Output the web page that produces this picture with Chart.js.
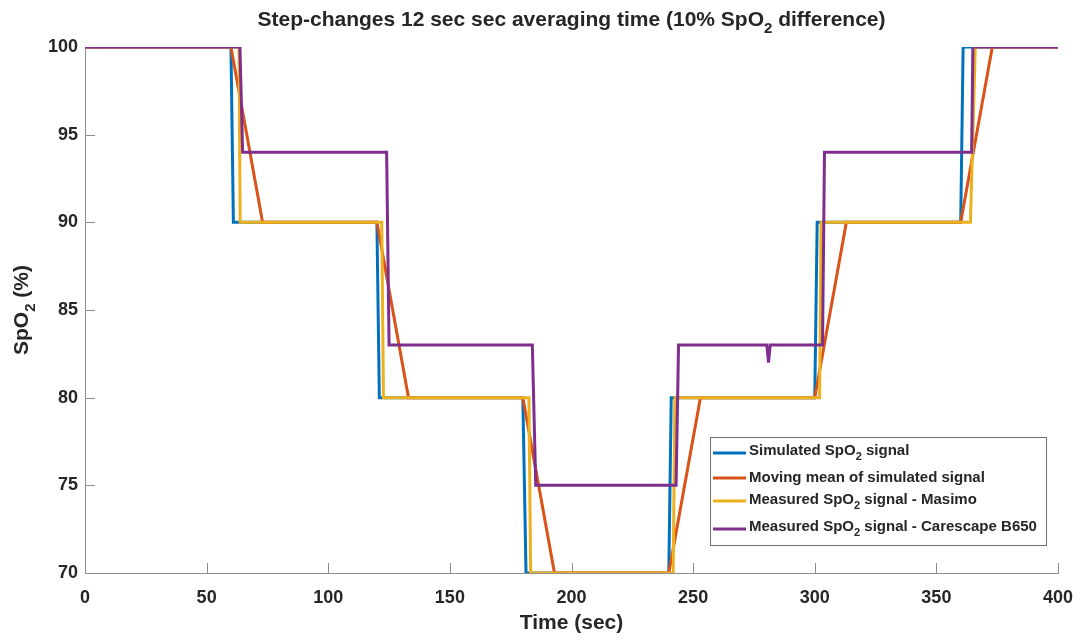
<!DOCTYPE html>
<html>
<head>
<meta charset="utf-8">
<script src="https://cdn.jsdelivr.net/npm/chart.js@4/dist/chart.umd.min.js"></script>
<style>
  body { margin: 0; background: #fff; }
  canvas { display: block; }
</style>
</head>
<body>
<canvas id="chart" width="1084" height="640"></canvas>
<script>
// (time in sec, SpO2 in %)
const simTime = [0, 60, 61, 120, 121, 180, 181.3, 240, 241, 300, 301, 360, 361, 400];
const simSpO2 = [100, 100, 90, 90, 80, 80, 70, 70, 80, 80, 90, 90, 100, 100];

const meanTime = [0, 60, 73, 120, 133, 180, 193, 240, 253, 300, 313, 360, 373, 400];
const meanSpO2 = [100, 100, 90, 90, 80, 80, 70, 70, 80, 80, 90, 90, 100, 100];

const masimoTime = [0, 63.3, 63.8, 122, 122.7, 182.5, 183.2, 241.8, 242.5, 302, 302.6, 364, 366, 400];
const masimoSpO2 = [100, 100, 90, 90, 80, 80, 70, 70, 80, 80, 90, 90, 100, 100];

const careTime = [0, 63.7, 64.8, 124, 125, 183.9, 185.3, 243, 244, 280.3, 281, 281.7, 303.2, 304, 364.5, 365, 400];
const careSpO2 = [100, 100, 94, 94, 83, 83, 75, 75, 83, 83, 82, 83, 83, 94, 94, 100, 100];

const xTicks = [0, 50, 100, 150, 200, 250, 300, 350, 400];
const yTicks = [70, 75, 80, 85, 90, 95, 100];

// '_2' marks a subscript, as in the MATLAB tex labels
const seriesLabels = [
    'Simulated SpO_2 signal',
    'Moving mean of simulated signal',
    'Measured SpO_2 signal - Masimo',
    'Measured SpO_2 signal - Carescape B650'
];
const seriesColors = ['#0072BD', '#D95319', '#EDB120', '#7E2F8E'];
const chartTitle = 'Step-changes 12 sec sec averaging time (10% SpO_2 difference)';
const xTitle = 'Time (sec)';
const yTitle = 'SpO_2 (%)';

const ink = '#262626';
const axisGray = '#8f8f8f';
const fontFamily = '"Liberation Sans", Arial, Helvetica, sans-serif';

function toPoints(xs, ys) {
    return xs.map((x, i) => ({ x: x, y: ys[i] }));
}

function splitSub(text) {
    const parts = [];
    let buf = '';
    for (let i = 0; i < text.length; i++) {
        if (text[i] === '_' && i + 1 < text.length) {
            if (buf) parts.push([buf, false]);
            buf = '';
            parts.push([text[i + 1], true]);
            i++;
        } else {
            buf += text[i];
        }
    }
    if (buf) parts.push([buf, false]);
    return parts;
}

// draw text with subscripts, vertically centred on y
function drawRich(ctx, text, x, y, size, align) {
    const parts = splitSub(text);
    const subSize = Math.round(size * 0.72);
    let total = 0;
    parts.forEach(p => {
        ctx.font = `bold ${p[1] ? subSize : size}px ${fontFamily}`;
        total += ctx.measureText(p[0]).width;
    });
    let cx = x;
    if (align === 'center') cx = x - total / 2;
    else if (align === 'right') cx = x - total;
    ctx.textAlign = 'left';
    ctx.textBaseline = 'middle';
    parts.forEach(p => {
        ctx.font = `bold ${p[1] ? subSize : size}px ${fontFamily}`;
        ctx.fillText(p[0], cx, p[1] ? y + size * 0.42 : y);
        cx += ctx.measureText(p[0]).width;
    });
}

const decorPlugin = {
    id: 'decor',
    beforeDatasetsDraw(chart) {
        // MATLAB style inward tick marks
        const ctx = chart.ctx;
        const a = chart.chartArea;
        const xs = chart.scales.x, ys = chart.scales.y;
        ctx.save();
        ctx.strokeStyle = axisGray;
        ctx.lineWidth = 1;
        ctx.beginPath();
        xTicks.forEach(v => {
            const px = Math.round(xs.getPixelForValue(v)) + 0.5;
            ctx.moveTo(px, a.bottom);
            ctx.lineTo(px, a.bottom - 10);
        });
        yTicks.forEach(v => {
            const py = Math.round(ys.getPixelForValue(v)) + 0.5;
            ctx.moveTo(a.left, py);
            ctx.lineTo(a.left + 10, py);
        });
        ctx.stroke();
        ctx.restore();
    },
    afterDraw(chart) {
        const ctx = chart.ctx;
        const a = chart.chartArea;
        const midX = (a.left + a.right) / 2;
        ctx.save();
        ctx.fillStyle = ink;

        // title
        drawRich(ctx, chartTitle, midX, 20, 21, 'center');

        // axis titles
        drawRich(ctx, xTitle, midX, 623, 21, 'center');
        ctx.save();
        ctx.translate(22, (a.top + a.bottom) / 2);
        ctx.rotate(-Math.PI / 2);
        drawRich(ctx, yTitle, 0, 0, 21, 'center');
        ctx.restore();

        // legend box
        const box = { left: 710, top: 437, width: 336, height: 108 };
        ctx.fillStyle = '#ffffff';
        ctx.fillRect(box.left, box.top, box.width, box.height);
        ctx.strokeStyle = '#6f6f6f';
        ctx.lineWidth = 1;
        ctx.strokeRect(box.left + 0.5, box.top + 0.5, box.width, box.height);

        const lineY = [16, 41, 64, 92];
        const textY = [14, 41, 63, 90];
        seriesLabels.forEach((lbl, i) => {
            ctx.strokeStyle = seriesColors[i];
            ctx.lineWidth = 3;
            ctx.beginPath();
            ctx.moveTo(box.left + 3, box.top + lineY[i]);
            ctx.lineTo(box.left + 36, box.top + lineY[i]);
            ctx.stroke();
            ctx.fillStyle = ink;
            drawRich(ctx, lbl, box.left + 39, box.top + textY[i], 15, 'left');
        });
        ctx.restore();
    }
};

const series = [
    { t: simTime, v: simSpO2, order: 3 },
    { t: meanTime, v: meanSpO2, order: 2 },
    { t: masimoTime, v: masimoSpO2, order: 1 },
    { t: careTime, v: careSpO2, order: 0 }
];

const datasets = series.map((s, i) => ({
    label: seriesLabels[i].replace('_2', '\u2082'),
    data: toPoints(s.t, s.v),
    borderColor: seriesColors[i],
    backgroundColor: seriesColors[i],
    borderWidth: 3,
    pointRadius: 0,
    tension: 0,
    fill: false,
    order: s.order
}));

const tickFont = { family: fontFamily, size: 18, weight: 'bold' };

new Chart(document.getElementById('chart'), {
    type: 'line',
    data: { datasets },
    options: {
        responsive: false,
        animation: false,
        devicePixelRatio: 1,
        layout: { padding: { left: 0, right: 26, top: 47, bottom: 0 } },
        plugins: {
            legend: { display: false },
            title: { display: false },
            tooltip: { enabled: false }
        },
        scales: {
            x: {
                type: 'linear',
                min: 0,
                max: 400,
                afterFit: s => {
                    s.height = 67;
                    s.paddingLeft = 0;
                    s.paddingRight = 0;
                },
                afterBuildTicks: s => { s.ticks = xTicks.map(v => ({ value: v })); },
                grid: { display: false, drawTicks: false },
                border: { display: true, color: axisGray, width: 1 },
                ticks: { font: tickFont, color: ink, padding: 14, maxRotation: 0, autoSkip: false }
            },
            y: {
                type: 'linear',
                min: 70,
                max: 100,
                afterFit: s => {
                    s.width = 85;
                    s.paddingTop = 0;
                    s.paddingBottom = 0;
                },
                afterBuildTicks: s => { s.ticks = yTicks.map(v => ({ value: v })); },
                grid: { display: false, drawTicks: false },
                border: { display: true, color: axisGray, width: 1 },
                ticks: { font: tickFont, color: ink, padding: 7, autoSkip: false }
            }
        }
    },
    plugins: [decorPlugin]
});
</script>
</body>
</html>
